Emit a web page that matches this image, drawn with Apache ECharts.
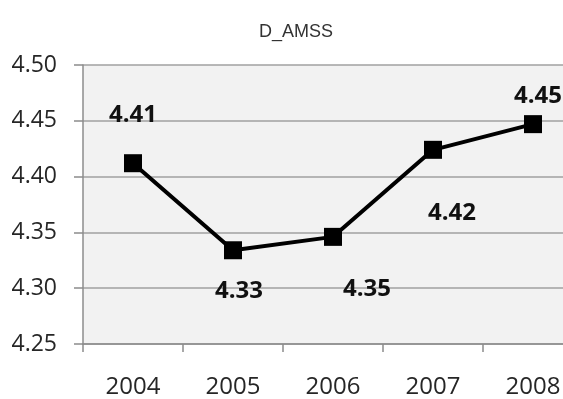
<!DOCTYPE html>
<html>
<head>
<meta charset="utf-8">
<script src="https://cdn.jsdelivr.net/npm/echarts@6/dist/echarts.min.js"></script>
<style>
html,body{margin:0;padding:0;background:#fff;overflow:hidden;}
#chart{width:583px;height:399px;}
</style>
</head>
<body>
<div id="chart"></div>
<script>
const title = 'D_AMSS';
const years = ['2004', '2005', '2006', '2007', '2008'];
const values = [4.412, 4.334, 4.346, 4.424, 4.447];
const labelTexts = ['4.41', '4.33', '4.35', '4.42', '4.45'];
const yMin = 4.25, yMax = 4.50, yStep = 0.05;

// label offsets relative to each point (pixels), by point index
const labelOffsets = [[0, -48], [6, 41], [34, 52], [19, 63], [5, -28]];

const chart = echarts.init(document.getElementById('chart'), null, {renderer: 'canvas'});
const data = values.map((v, i) => ({
  value: v,
  label: {
    show: true,
    position: 'inside',
    offset: labelOffsets[i],
    formatter: labelTexts[i]
  }
}));

chart.setOption({
  animation: false,
  backgroundColor: '#ffffff',
  title: {
    text: title,
    left: 291, top: 18, textAlign: 'center',
    textStyle: {fontFamily: 'Liberation Sans', fontSize: 18, fontWeight: 'normal', color: '#333'}
  },
  grid: {
    left: 83, right: 0, top: 65, bottom: 53,
    show: true, backgroundColor: '#f2f2f2', borderWidth: 0
  },
  xAxis: {
    type: 'category',
    data: years,
    boundaryGap: true,
    axisLine: {show: true, lineStyle: {color: '#8c8c8c', width: 1.5}},
    axisTick: {show: true, length: 8, inside: false, lineStyle: {color: '#8c8c8c', width: 1.5}},
    axisLabel: {margin: 31, fontFamily: 'Open Sans', fontSize: 24, color: '#262626'},
    splitLine: {show: false}
  },
  yAxis: {
    type: 'value',
    min: yMin, max: yMax, interval: yStep,
    axisLine: {show: true, lineStyle: {color: '#8c8c8c', width: 1.5}},
    axisTick: {show: true, length: 9, lineStyle: {color: '#8c8c8c', width: 1.5}},
    axisLabel: {margin: 26, fontFamily: 'Open Sans', fontSize: 23, color: '#262626',
      formatter: v => v.toFixed(2)},
    splitLine: {show: true, lineStyle: {color: '#a0a0a0', width: 1.5}}
  },
  series: [{
    type: 'line',
    data: data,
    symbol: 'rect',
    symbolSize: 18,
    itemStyle: {color: '#000'},
    lineStyle: {color: '#000', width: 4},
    label: {fontFamily: 'Open Sans', fontSize: 24, fontWeight: 'bold', color: '#111'}
  }]
});
</script>
</body>
</html>
